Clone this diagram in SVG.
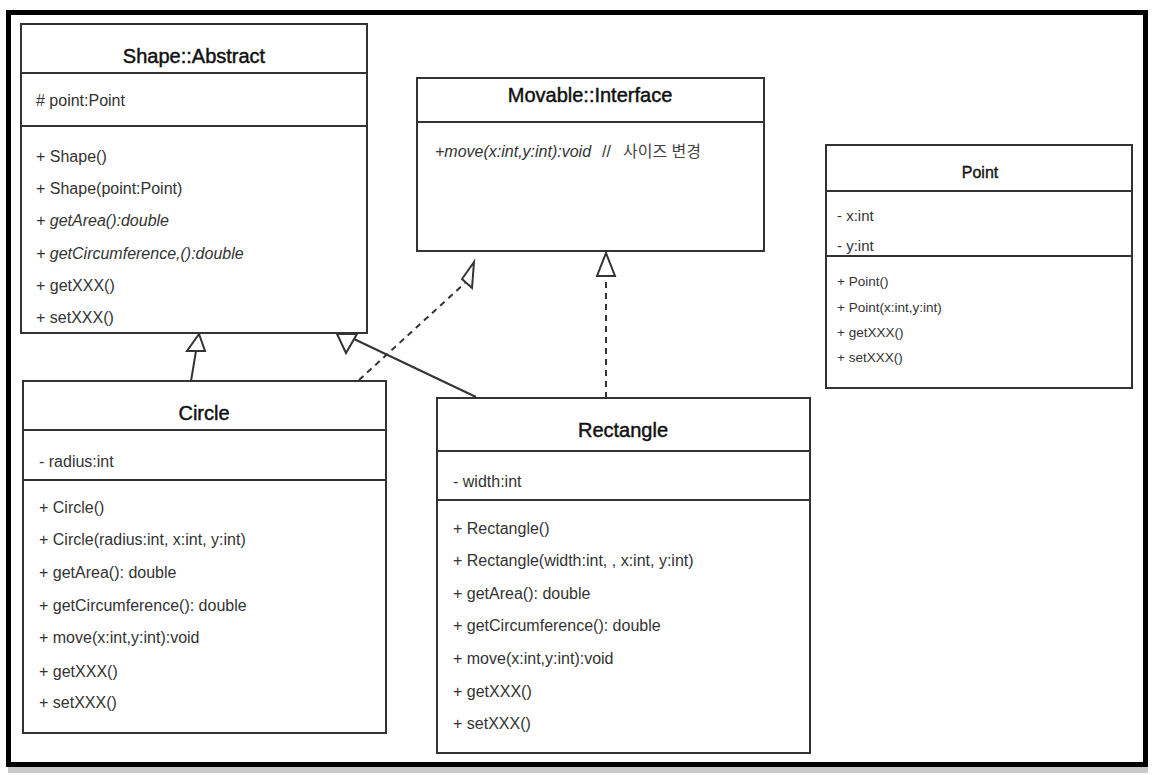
<svg xmlns="http://www.w3.org/2000/svg" width="1153" height="775" viewBox="0 0 1153 775">
<style>
.box{fill:#fff;stroke:#333;stroke-width:2}
.sep{stroke:#333;stroke-width:2}
.title{font-family:"Liberation Sans",Arial,sans-serif;font-size:20px;fill:#111;stroke:#111;stroke-width:0.45;text-anchor:middle}
.m{font-family:"Liberation Sans",Arial,sans-serif;font-size:16px;fill:#333}
.it{font-style:italic}
.pm{font-family:"Liberation Sans",Arial,sans-serif;font-size:13.5px;fill:#333}
.pa{font-family:"Liberation Sans",Arial,sans-serif;font-size:15px;fill:#333}
.ko{font-family:"Liberation Sans","Noto Sans CJK KR",sans-serif;font-size:16px;fill:#444}
.solid{fill:none;stroke:#333;stroke-width:2}
.dash{fill:none;stroke:#333;stroke-width:2;stroke-dasharray:6 5}
.head{fill:#fff;stroke:#333;stroke-width:2;stroke-linejoin:miter}
</style>
<rect x="0" y="0" width="1153" height="775" fill="#fff"/>
<rect x="8" y="767" width="1140" height="6" fill="#c8c8c8"/>
<rect x="8.5" y="12.5" width="1137" height="752" fill="#fff" stroke="#000" stroke-width="5"/>

<g id="shape">
<rect class="box" x="21" y="24" width="346" height="309"/>
<line class="sep" x1="21" y1="73" x2="367" y2="73"/>
<line class="sep" x1="21" y1="126" x2="367" y2="126"/>
<text class="title" x="194" y="63">Shape::Abstract</text>
<text class="m" x="36" y="106"># point:Point</text>
<text class="m" x="36" y="162">+ Shape()</text>
<text class="m" x="36" y="194">+ Shape(point:Point)</text>
<text class="m it" x="36" y="226">+ getArea():double</text>
<text class="m it" x="36" y="259">+ getCircumference,():double</text>
<text class="m" x="36" y="291">+ getXXX()</text>
<text class="m" x="36" y="323">+ setXXX()</text>
</g>

<g id="movable">
<rect class="box" x="417" y="78" width="347" height="173"/>
<line class="sep" x1="417" y1="122" x2="764" y2="122"/>
<text class="title" x="590" y="102">Movable::Interface</text>
<text class="m it" x="435" y="157">+move(x:int,y:int):void</text>
<text class="m" x="602" y="157">//</text>
<text class="ko" x="623" y="157">사이즈 변경</text>
</g>

<g id="point">
<rect class="box" x="826" y="145" width="306" height="243"/>
<line class="sep" x1="826" y1="191" x2="1132" y2="191"/>
<line class="sep" x1="826" y1="256" x2="1132" y2="256"/>
<text class="title" x="980" y="178" style="font-size:16px;stroke-width:0.35">Point</text>
<text class="pa" x="837" y="221">- x:int</text>
<text class="pa" x="837" y="251">- y:int</text>
<text class="pm" x="837" y="286">+ Point()</text>
<text class="pm" x="837" y="312">+ Point(x:int,y:int)</text>
<text class="pm" x="837" y="337">+ getXXX()</text>
<text class="pm" x="837" y="362">+ setXXX()</text>
</g>

<g id="circle">
<rect class="box" x="23" y="381" width="363" height="352"/>
<line class="sep" x1="23" y1="430" x2="386" y2="430"/>
<line class="sep" x1="23" y1="480" x2="386" y2="480"/>
<text class="title" x="204" y="420">Circle</text>
<text class="m" x="39" y="467">- radius:int</text>
<text class="m" x="39" y="513">+ Circle()</text>
<text class="m" x="39" y="545">+ Circle(radius:int, x:int, y:int)</text>
<text class="m" x="39" y="578">+ getArea(): double</text>
<text class="m" x="39" y="611">+ getCircumference(): double</text>
<text class="m" x="39" y="643">+ move(x:int,y:int):void</text>
<text class="m" x="39" y="677">+ getXXX()</text>
<text class="m" x="39" y="708">+ setXXX()</text>
</g>

<g id="rectangle">
<rect class="box" x="437" y="398" width="373" height="355"/>
<line class="sep" x1="437" y1="451" x2="810" y2="451"/>
<line class="sep" x1="437" y1="500" x2="810" y2="500"/>
<text class="title" x="623" y="437">Rectangle</text>
<text class="m" x="453" y="487">- width:int</text>
<text class="m" x="453" y="534">+ Rectangle()</text>
<text class="m" x="453" y="566">+ Rectangle(width:int, , x:int, y:int)</text>
<text class="m" x="453" y="599">+ getArea(): double</text>
<text class="m" x="453" y="631">+ getCircumference(): double</text>
<text class="m" x="453" y="664">+ move(x:int,y:int):void</text>
<text class="m" x="453" y="697">+ getXXX()</text>
<text class="m" x="453" y="729">+ setXXX()</text>
</g>

<g id="connectors">
<line class="solid" x1="191" y1="381" x2="196" y2="351"/>
<polygon class="head" points="199,334 187,351 205,351"/>
<line class="solid" x1="476" y1="397" x2="354" y2="339"/>
<polygon class="head" points="337,334 357,334 346,353"/>
<line class="dash" x1="359" y1="380" x2="465" y2="283"/>
<polygon class="head" points="474,262 462,279 472,288"/>
<line class="dash" x1="606" y1="398" x2="606" y2="277"/>
<polygon class="head" points="606,253 597,276 615,276"/>
</g>
</svg>
